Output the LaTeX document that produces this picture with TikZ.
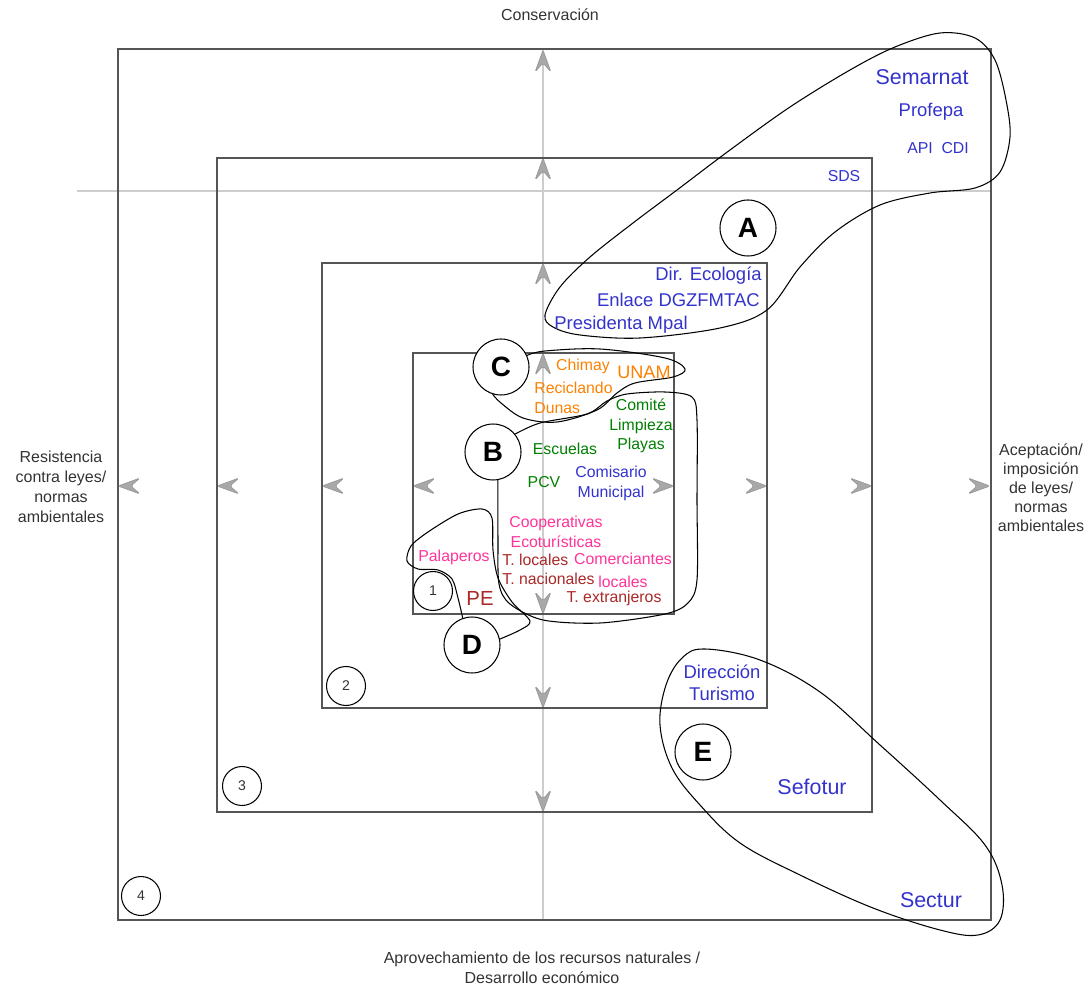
\documentclass[tikz,border=0pt]{standalone}
\usepackage{fontspec}
\setmainfont{Liberation Sans}
\usetikzlibrary{positioning}
\definecolor{govblue}{RGB}{51,51,204}
\definecolor{acadorange}{RGB}{255,128,0}
\definecolor{civgreen}{RGB}{0,128,0}
\definecolor{tourpink}{RGB}{255,51,153}
\definecolor{tourred}{RGB}{170,40,40}
\definecolor{axisgray}{RGB}{51,51,51}
\definecolor{framegray}{RGB}{85,85,85}
\definecolor{guidegray}{RGB}{205,205,205}
\definecolor{chevgray}{RGB}{168,168,168}
\tikzset{>=latex}
% gray chevron with its tip at (x,y), pointing at the given angle
\newcommand{\chevron}[3]{\filldraw[fill=chevgray, draw=chevgray!85!black, line width=0.3pt, rounded corners=1pt, shift={(#1,#2)}, rotate=#3] (0,0) -- (-22,-8) -- (-13,0) -- (-22,8) -- cycle;}

\begin{document}
\begin{tikzpicture}[x=0.02cm, y=-0.02cm,
    every node/.style={inner sep=0pt},
    boxline/.style={draw=framegray, line width=1.1pt},
    guide/.style={draw=guidegray, line width=0.8pt},
    loopline/.style={draw=black, line width=0.6pt},
    letter/.style={circle, draw, fill=white, line width=0.6pt, minimum size=1.12cm, font=\bfseries\fontsize{15.9}{18}\selectfont},
    number/.style={circle, draw, fill=white, line width=0.6pt, minimum size=0.78cm, text=axisgray, font=\fontsize{8}{10}\selectfont},
    axislabel/.style={text=axisgray, align=center, font=\fontsize{9.1}{11.3}\selectfont},
    bigname/.style={font=\fontsize{12.2}{14}\selectfont},
    midname/.style={font=\fontsize{10.5}{12.5}\selectfont},
    smallname/.style={font=\fontsize{9}{11.3}\selectfont}]
    \useasboundingbox (0,0) rectangle (1089,989);

    % Guide lines.
    \draw[guide] (543,48) -- (543,920);
    \draw[guide] (77,191) -- (991,191);

    % Draw the four frames.
    \draw[boxline] (118,49) rectangle (991,920);
    \draw[boxline] (217,158) rectangle (872,812);
    \draw[boxline] (322,263) rectangle (767,708);
    \draw[boxline] (413,353) rectangle (674,614);

    % Chevrons on the frame edges.
    \foreach \yy in {50,158,263,353} {\chevron{543}{\yy}{90}}
    \foreach \yy in {614,708,812} {\chevron{543}{\yy}{270}}
    \foreach \xx in {118,217,322,413} {\chevron{\xx}{486}{180}}
    \foreach \xx in {674,767,872,990} {\chevron{\xx}{486}{0}}

    % Axis texts.
    \node[axislabel] (top) at (550,15) {Conservación};
    \node[axislabel] (left) at (61,487) {Resistencia\\contra leyes/\\normas\\ambientales};
    \node[axislabel, font=\fontsize{9.1}{10.8}\selectfont] (right) at (1041,488) {Aceptación/\\imposición\\de leyes/\\normas\\ambientales};
    \node[axislabel] (bottom) at (542,968) {Aprovechamiento de los recursos naturales /\\Desarrollo económico};

    % Loop A.
    \draw[loopline] plot[smooth cycle, tension=0.55] coordinates {(545,315) (560,287) (590,257) (633,223) (677,190)
      (730,150) (790,107) (850,70) (895,47) (940,33) (975,38) (995,60) (1006,100) (1010,137) (1000,172)
      (975,188) (930,193) (880,205) (835,232) (800,267) (767,310) (720,328) (640,338) (580,335) (553,327)};

    % Loop E.
    \draw[loopline] plot[smooth cycle, tension=0.6] coordinates {(705,649) (760,660) (820,692) (880,745) (940,800)
      (985,845) (1002,885) (1000,920) (978,935) (940,930) (873,908) (800,875) (740,843) (700,805)
      (672,768) (660,725) (666,685) (682,658)};

    % Letter circles.
    \node[letter] (A) at (748,228) {A};
    \node[letter] (B) at (493,452) {B};
    \node[letter] (C) at (501,367) {C};
    \node[letter] (D) at (472,645) {D};
    \node[letter] (E) at (703,752) {E};

    % Loops hanging on B, C and D.
    \draw[loopline] plot[smooth, tension=0.55] coordinates {(C.24) (545,351) (600,349) (665,358) (685,369) (673,377)
      (635,383) (617,393) (597,410) (557,422) (523,418) (501,403) (C.253)};
    \draw[loopline] plot[smooth, tension=0.5] coordinates {(B.39) (540,423) (587,414) (607,401) (627,394) (665,392)
      (692,397) (697,420) (697,500) (697,580) (688,603) (665,614) (600,623) (543,620) (510,604) (499,584)
      (498,540) (B.-80)};
    \draw[loopline] plot[smooth, tension=0.5] coordinates {(D.109) (458,598) (452,579) (438,570) (418,569) (407,561)
      (411,546) (428,532) (458,514) (482,509) (492,518) (493,550) (498,578) (512,602) (530,621) (520,630) (D.12)};

    % Frame numbers.
    \node[number] (n1) at (433,591) {1};
    \node[number] (n2) at (346,686) {2};
    \node[number] (n3) at (242,786) {3};
    \node[number] (n4) at (141,896) {4};

    % Government actors.
    \node[bigname, text=govblue] (semarnat) at (922,77) {Semarnat};
    \node[midname, text=govblue] (profepa) at (931,112) {Profepa};
    \node[smallname, text=govblue] (apicdi) at (938,148) {API\ \ CDI};
    \node[smallname, text=govblue] (sds) at (844,176) {SDS};
    \node[midname, text=govblue, anchor=east] (ecologia) at (762,276) {Dir. Ecología};
    \node[midname, text=govblue, anchor=east] (enlace) at (760,300) {Enlace DGZFMTAC};
    \node[midname, text=govblue] (presidenta) at (621,325) {Presidenta Mpal};
    \node[smallname, text=govblue, align=center] (comisario) at (611,483) {Comisario\\Municipal};
    \node[midname, text=govblue, align=center] (turismo) at (722,683) {Dirección\\Turismo};
    \node[bigname, text=govblue] (sefotur) at (812,787) {Sefotur};
    \node[bigname, text=govblue] (sectur) at (931,900) {Sectur};

    % Academic and civil actors.
    \node[smallname, text=acadorange] (chimay) at (583,366) {Chimay};
    \node[font=\fontsize{10.3}{12}\selectfont, text=acadorange] (unam) at (644,372) {UNAM};
    \node[smallname, text=acadorange, align=left, anchor=west] (reciclando) at (534,398) {Reciclando\\Dunas};
    \node[smallname, text=civgreen, align=center, font=\fontsize{9}{11}\selectfont] (comite) at (641,426) {Comité\\Limpieza\\Playas};
    \node[smallname, text=civgreen] (escuelas) at (565,449) {Escuelas};
    \node[smallname, text=civgreen] (pcv) at (544,482) {PCV};

    % Tourism and local actors.
    \node[smallname, text=tourpink, align=center] (coop) at (556,532) {Cooperativas\\Ecoturísticas};
    \node[smallname, text=tourpink] (palaperos) at (454,557) {Palaperos};
    \node[smallname, text=tourpink, align=center, font=\fontsize{9}{13}\selectfont] (comerciantes) at (623,570) {Comerciantes\\locales};
    \node[smallname, text=tourred, align=left, anchor=west, font=\fontsize{9}{10.8}\selectfont] (tlocales) at (502,569) {T. locales\\T. nacionales};
    \node[smallname, text=tourred] (textranjeros) at (614,598) {T. extranjeros};
    \node[font=\fontsize{11.6}{13}\selectfont, text=tourred] (pe) at (480,598) {PE};
  \end{tikzpicture}
\end{document}
